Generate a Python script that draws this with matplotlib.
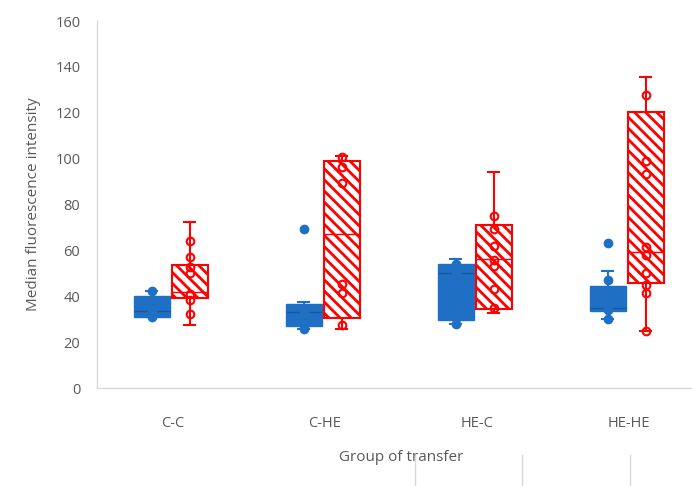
import matplotlib
matplotlib.use("Agg")
import matplotlib.pyplot as plt
from matplotlib.lines import Line2D

groups = ["C-C", "C-HE", "HE-C", "HE-HE"]

# blue series: box statistics
blue_q1 = [31.1, 27.2, 29.6, 33.7]
blue_med = [33.6, 33.0, 50.0, 34.7]
blue_q3 = [40.1, 36.5, 53.9, 44.5]
blue_lo = [31.0, 25.6, 28.0, 29.9]
blue_hi = [42.3, 37.4, 56.2, 51.1]
blue_points = [
    [42.3, 38.0, 33.7, 31.0],
    [69.2, 33.0, 27.2, 25.6],
    [54.0, 50.0, 30.4, 28.0],
    [63.0, 47.0, 34.0, 30.0],
]

# red (hatched) series
red_q1 = [39.4, 30.4, 34.6, 45.9]
red_med = [42.0, 67.0, 56.2, 59.4]
red_q3 = [53.8, 99.1, 70.9, 120.2]
red_lo = [27.3, 25.6, 32.8, 25.0]
red_hi = [72.2, 101.1, 94.2, 135.4]
red_points = [
    [64.2, 57.1, 52.6, 50.0, 41.0, 38.4, 32.1],
    [100.5, 96.5, 89.5, 45.3, 41.3, 27.5],
    [75.0, 69.4, 62.0, 55.8, 53.3, 43.0, 34.9],
    [127.7, 99.0, 93.3, 61.6, 58.0, 50.0, 44.9, 41.3, 25.0],
]

blue = "#1f6fc5"
red = "#ff0000"
grey = "#595959"

plt.rcParams["font.family"] = ["Open Sans", "DejaVu Sans"]
plt.rcParams["hatch.linewidth"] = 2.0

fig = plt.figure(figsize=(6.92, 4.86), dpi=100)
ax = fig.add_axes([97 / 692, 98 / 486, 608 / 692, 367 / 486])

x = list(range(1, len(groups) + 1))
bpos = [i - 0.14 for i in x]
rpos = [i + 0.11 for i in x]


def stats(q1, med, q3, lo, hi):
    return [dict(q1=a, med=b, q3=c, whislo=d, whishi=e, fliers=[])
            for a, b, c, d, e in zip(q1, med, q3, lo, hi)]


bb = ax.bxp(stats(blue_q1, blue_med, blue_q3, blue_lo, blue_hi),
            positions=bpos, widths=0.235, capwidths=0.07, patch_artist=True,
            showfliers=False, manage_ticks=False,
            boxprops=dict(facecolor=blue, edgecolor=blue, linewidth=1),
            medianprops=dict(color="#17589e", linewidth=1.0),
            whiskerprops=dict(color=blue, linewidth=1.5),
            capprops=dict(color=blue, linewidth=1.5))

rb = ax.bxp(stats(red_q1, red_med, red_q3, red_lo, red_hi),
            positions=rpos, widths=0.235, capwidths=0.07, patch_artist=True,
            showfliers=False, manage_ticks=False,
            boxprops=dict(facecolor="white", edgecolor=red, linewidth=1.5,
                          hatch="\\\\\\"),
            medianprops=dict(color=red, linewidth=1),
            whiskerprops=dict(color=red, linewidth=1.5),
            capprops=dict(color=red, linewidth=1.5))

for p, pts in zip(bpos, blue_points):
    ax.plot([p] * len(pts), pts, "o", ms=6, color=blue, zorder=4)
for p, pts in zip(rpos, red_points):
    ax.plot([p] * len(pts), pts, "o", ms=5.5, mfc="none", mec=red, mew=1.5,
            zorder=4)

ax.set_xlim(0.5, 4.5)
ax.set_ylim(0, 160)
ax.set_yticks(range(0, 161, 20))
ax.set_xticks(x)
ax.set_xticklabels(groups)
ax.tick_params(axis="both", length=0, labelsize=10.5, colors=grey)
ax.tick_params(axis="y", pad=12)
ax.tick_params(axis="x", pad=20)

for s in ["top", "right"]:
    ax.spines[s].set_visible(False)
for s in ["left", "bottom"]:
    ax.spines[s].set_color("#d9d9d9")
    ax.spines[s].set_linewidth(1)

ax.set_ylabel("Median fluorescence intensity", fontsize=11, color=grey,
              labelpad=10)
ax.set_xlabel("Group of transfer", fontsize=11, color=grey, labelpad=14)

# small grey marks along the bottom edge of the image
for xp in [415, 522, 630]:
    fig.add_artist(Line2D([xp / 692] * 2, [0, 31 / 486], color="#d9d9d9",
                          lw=1))

fig.savefig("out.png", dpi=100)
